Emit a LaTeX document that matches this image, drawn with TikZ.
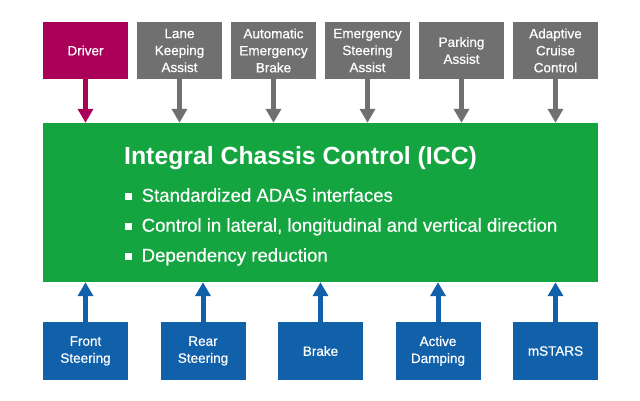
\documentclass[tikz,border=0pt]{standalone}
\usepackage{fontspec}
\setmainfont{Liberation Sans}
\newfontface\medfont{Liberation Sans}[FakeBold=0.6]
\newfontface\semifont{Liberation Sans}[FakeBold=0.3]
\usetikzlibrary{arrows.meta}
\definecolor{drvc}{RGB}{170,0,90}
\definecolor{adasc}{RGB}{112,112,112}
\definecolor{iccc}{RGB}{20,165,64}
\definecolor{actc}{RGB}{16,96,170}
\begin{document}
\begin{tikzpicture}[x=1pt,y=-1pt,
  box/.style={minimum width=85pt, inner sep=0pt, align=center, text=white,
    font=\fontsize{13.5}{17}\medfont},
  topbox/.style={box, fill=adasc, minimum height=57pt},
  botbox/.style={box, fill=actc, minimum height=58pt},
  arr/.style={line width=5pt, -{Triangle[length=14pt,width=15pt]}},
  bul/.style={fill=white, minimum size=7pt, inner sep=0pt},
  btxt/.style={anchor=base west, inner sep=0pt, text=white, font=\fontsize{18.6}{22}\semifont},
]
\useasboundingbox[fill=white] (0,0) rectangle (640,400);
% central block
\node[fill=iccc, minimum width=555pt, minimum height=159pt, inner sep=0pt] (icc) at (320.5,202.5) {};
\node[anchor=base west, inner sep=0pt, text=white, font=\fontsize{24.8}{28}\selectfont\bfseries] (title) at (124,164.5) {Integral Chassis Control (ICC)};
\node[bul] (b1) at (128,196) {};
\node[bul] (b2) at (128,226) {};
\node[bul] (b3) at (128,256) {};
\node[btxt] (t1) at (141.5,201.7) {Standardized ADAS interfaces};
\node[btxt] (t2) at (141.5,231.7) {Control in lateral, longitudinal and vertical direction};
\node[btxt] (t3) at (141.5,261.7) {Dependency reduction};
% top boxes
\node[topbox, fill=drvc] (drv) at (85.5,50.5) {Driver};
\node[topbox] (lka) at (179.5,50.5) {Lane\\Keeping\\Assist};
\node[topbox] (aeb) at (273.5,50.5) {Automatic\\Emergency\\Brake};
\node[topbox] (esa) at (367.5,50.5) {Emergency\\Steering\\Assist};
\node[topbox] (pa) at (461.5,50.5) {Parking\\Assist};
\node[topbox] (acc) at (555.5,50.5) {Adaptive\\Cruise\\Control};
% bottom boxes
\node[botbox] (fs) at (85.5,351) {Front\\Steering};
\node[botbox] (rs) at (203,351) {Rear\\Steering};
\node[botbox] (br) at (320.5,351) {Brake};
\node[botbox] (ad) at (438,351) {Active\\Damping};
\node[botbox] (ms) at (555.5,351) {mSTARS};
% arrows
\draw[arr, drvc] (drv.south) -- (drv.south |- icc.north);
\foreach \n in {lka,aeb,esa,pa,acc}
  \draw[arr, adasc] (\n.south) -- (\n.south |- icc.north);
\foreach \n in {fs,rs,br,ad,ms}
  \draw[arr, actc] (\n.north) -- (\n.north |- icc.south);
\end{tikzpicture}
\end{document}
